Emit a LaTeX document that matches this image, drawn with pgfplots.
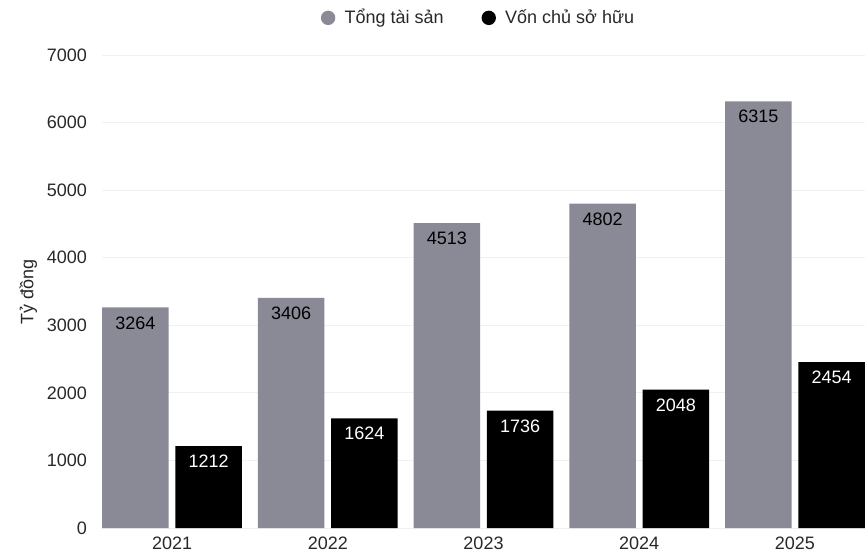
\documentclass[border=0pt]{standalone}
\usepackage{pgfplots}
\pgfplotsset{compat=1.18}
\usepackage{fontspec}
\setmainfont{Liberation Sans}
\definecolor{barGray}{RGB}{138,138,150}
\definecolor{txtDark}{RGB}{40,40,40}
\begin{document}
\begin{tikzpicture}
\useasboundingbox (-51pt,-15pt) rectangle (381.5pt,264pt);
\begin{axis}[
    at={(0,0)}, anchor=south west,
    scale only axis,
    width=381.5pt, height=236.5pt,
    ybar, bar width=0.427,
    xmin=-0.45, xmax=4.45,
    ymin=0, ymax=7000,
    xtick={0,1,2,3,4},
    xticklabels={2021,2022,2023,2024,2025},
    ytick={0,1000,...,7000},
    /pgf/number format/assume math mode=true,
    scaled y ticks=false,
    yticklabel style={/pgf/number format/1000 sep={}},
    ticklabel style={font=\fontsize{9}{10}\selectfont, text=txtDark},
    major tick length=0pt,
    xtick style={draw=none}, ytick style={draw=none},
    axis line style={draw=none},
    ymajorgrids, grid style={black!6, line width=0.5pt},
    ylabel={Tỷ đồng},
    ylabel style={font=\fontsize{9}{10}\selectfont, text=txtDark, yshift=-2pt},
    yticklabel shift=4pt,
    xticklabel shift=1pt,
    legend style={at={(0.5,1)}, anchor=south, yshift=10pt, xshift=-2pt, draw=none,
        font=\fontsize{9}{10}\selectfont, text=txtDark,
        legend columns=2, /tikz/every even column/.append style={column sep=17pt}},
    legend image code/.code={\fill (0pt,0pt) circle (3.6pt); \path (6.2pt,0pt);},
    nodes near coords,
    nodes near coords style={anchor=north, font=\fontsize{9}{10}\selectfont, yshift=-1pt,
        /pgf/number format/1000 sep={}, /pgf/number format/assume math mode=true},
]
\addplot[fill=barGray, draw=none, bar shift=-0.235, nodes near coords style={text=black}]
    coordinates {(0,3264) (1,3406) (2,4513) (3,4802) (4,6315)};
\addlegendentry{Tổng tài sản}
\addplot[fill=black, draw=none, bar shift=0.235, nodes near coords style={text=white}]
    coordinates {(0,1212) (1,1624) (2,1736) (3,2048) (4,2454)};
\addlegendentry{Vốn chủ sở hữu}
\end{axis}
\end{tikzpicture}
\end{document}
